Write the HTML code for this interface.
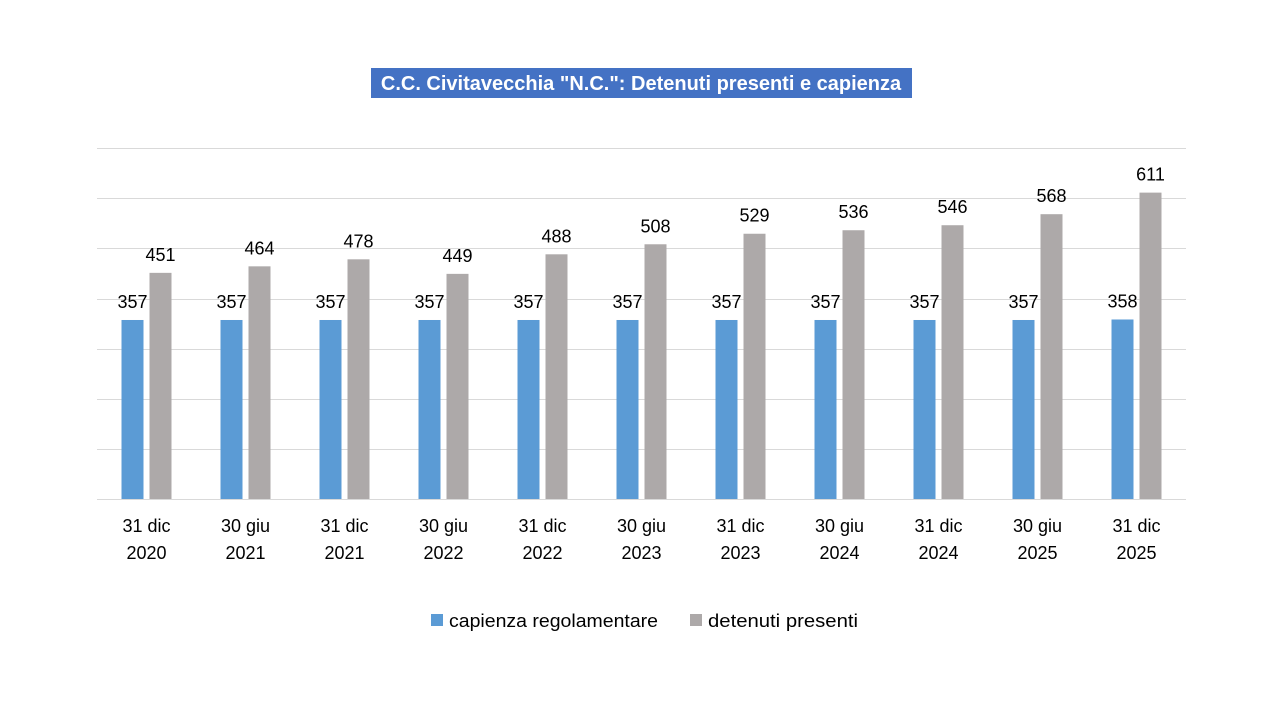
<!DOCTYPE html>
<html><head><meta charset="utf-8"><style>
body{margin:0;background:#fff;}
svg text{font-family:"Liberation Sans","DejaVu Sans",sans-serif;}
</style></head><body>
<svg width="1280" height="720" xmlns="http://www.w3.org/2000/svg">
<rect width="1280" height="720" fill="#fff"/>
<rect x="371" y="68" width="541" height="30" fill="#4472C4"/>
<text x="641" y="90" text-anchor="middle" font-size="20" font-weight="bold" fill="#fff">C.C. Civitavecchia "N.C.": Detenuti presenti e capienza</text>
<g stroke="#d9d9d9" stroke-width="1">
<line x1="97" x2="1186" y1="148.5" y2="148.5"/>
<line x1="97" x2="1186" y1="198.5" y2="198.5"/>
<line x1="97" x2="1186" y1="248.5" y2="248.5"/>
<line x1="97" x2="1186" y1="299.5" y2="299.5"/>
<line x1="97" x2="1186" y1="349.5" y2="349.5"/>
<line x1="97" x2="1186" y1="399.5" y2="399.5"/>
<line x1="97" x2="1186" y1="449.5" y2="449.5"/>
<line x1="97" x2="1186" y1="499.5" y2="499.5"/>
</g>
<g id="bars"></g>
<g font-size="18" fill="#000" text-anchor="middle" id="labels"></g>
<rect x="431" y="614" width="12" height="12" fill="#5B9BD5"/>
<text x="449" y="627" font-size="18" textLength="209" lengthAdjust="spacingAndGlyphs">capienza regolamentare</text>
<rect x="690" y="614" width="12" height="12" fill="#ADA9A9"/>
<text x="708" y="627" font-size="18" textLength="150" lengthAdjust="spacingAndGlyphs">detenuti presenti</text>
<script>
var cap=[357,357,357,357,357,357,357,357,357,357,358];
var det=[451,464,478,449,488,508,529,536,546,568,611];
var cats=[["31 dic","2020"],["30 giu","2021"],["31 dic","2021"],["30 giu","2022"],["31 dic","2022"],["30 giu","2023"],["31 dic","2023"],["30 giu","2024"],["31 dic","2024"],["30 giu","2025"],["31 dic","2025"]];
var ns="http://www.w3.org/2000/svg",b=document.getElementById("bars"),l=document.getElementById("labels");
function el(p,t,a,tx){var e=document.createElementNS(ns,t);for(var k in a)e.setAttribute(k,a[k]);if(tx)e.textContent=tx;p.appendChild(e);}
var s=351/700;
for(var i=0;i<11;i++){
 var c=97+99*(i+0.5);
 var h1=cap[i]*s,h2=det[i]*s;
 el(b,"rect",{x:c-25,y:499-h1,width:22,height:h1,fill:"#5B9BD5"});
 el(b,"rect",{x:c+3,y:499-h2,width:22,height:h2,fill:"#ADA9A9"});
 el(l,"text",{x:c-14,y:499-h1-12},cap[i]);
 el(l,"text",{x:c+14,y:499-h2-12},det[i]);
 el(l,"text",{x:c,y:532},cats[i][0]);
 el(l,"text",{x:c,y:559},cats[i][1]);
}
</script>
</svg>
</body></html>
